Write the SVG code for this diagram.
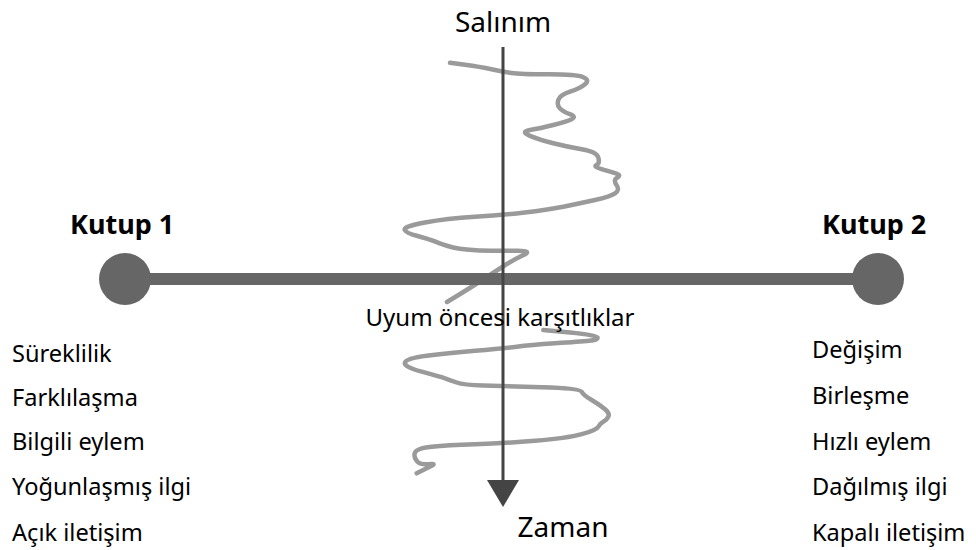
<svg xmlns="http://www.w3.org/2000/svg" width="976" height="550" viewBox="0 0 976 550">
  <style>
    text { font-family: "Noto Sans", "Open Sans", sans-serif; fill: #000; }
    .axis-label { font-size: 28px; text-anchor: middle; }
    .mid-label { font-size: 24px; text-anchor: middle; }
    .pole { font-size: 27px; font-weight: bold; }
    .item { font-size: 23.6px; }
    .wiggle { fill: none; stroke: #9a9a9a; stroke-width: 4.5; stroke-linejoin: round; stroke-linecap: round; }
  </style>
  <rect x="0" y="0" width="976" height="550" fill="#ffffff"/>

  <!-- oscillation trace, above and below the pole axis -->
  <g id="oscillation">
    <path class="wiggle" d="M 450,62.7 L 465,64.7 Q 480,66.7 491.5,69.2 Q 503,71.7 511.5,73 Q 520,74.3 548.3,74.3 Q 576.7,74.3 583.3,77.2 Q 590,80 585,84.2 Q 580,88.3 570,91.7 Q 560,95 558.3,100 Q 556.7,105 559.8,108.3 Q 563,111.7 569.8,114.2 Q 576.7,116.7 571.7,119.2 Q 566.7,121.7 553.3,125 Q 540,128.3 530,130 Q 520,131.7 530,135.8 Q 540,140 553.3,143.3 Q 566.7,146.7 581.7,149.2 Q 596.7,151.7 598.3,157.5 Q 600,163.3 596.5,165 Q 593,166.7 601.5,169.2 Q 610,171.7 615.8,173.3 Q 621.7,175 617.3,177.5 Q 613,180 616.5,185 Q 620,190 615,193.3 Q 610,196.7 595,200 Q 580,203.3 563.3,206.7 Q 546.7,210 524.8,212.5 Q 503,215 474.8,216.7 Q 446.7,218.3 424.8,222.5 Q 403,226.7 404.8,230 Q 406.7,233.3 416.7,235.8 Q 426.7,238.3 439.8,243.3 Q 453,248.3 466.5,249.5 Q 480,250.7 491.5,250.7 Q 503,250.7 518,250.7 Q 533,250.7 523,255.3 Q 513,260 503,266.5 Q 493,273 481.5,280.5 Q 470,288 458.5,295 L 447,302"/>
    <path class="wiggle" d="M 543.3,330 L 570,332.5 Q 596.7,335 597.5,337.5 Q 598.3,340 589.2,340.8 Q 580,341.7 555,343.3 Q 530,345 516.7,346.7 Q 503.3,348.3 475,350.8 Q 446.7,353.3 426.7,355.8 Q 406.7,358.3 405,362.5 Q 403.3,366.7 421.7,371.7 Q 440,376.7 445,378.3 Q 450,380 456.7,382.5 Q 463.3,385 483.3,385.5 Q 503.3,386 541.7,387.2 Q 580,388.3 581.7,391.7 Q 583.3,395 591.7,400 Q 600,405 605,409.2 Q 610,413.3 608.3,416.7 Q 606.7,420 603.3,421.7 Q 600,423.3 598.3,426.7 Q 596.7,430 581.7,434.2 Q 566.7,438.3 535,440.8 Q 503.3,443.3 475,444.2 Q 446.7,445 431.7,446.7 Q 416.7,448.3 415,452.5 Q 413.3,456.7 416.7,460.8 Q 420,465 428.3,464.2 Q 436.7,463.3 431.7,465.8 Q 426.7,468.3 421.7,470.8 L 416.7,473.3"/>
  </g>

  <!-- pole axis with end points -->
  <g id="pole-axis">
    <line x1="125" y1="279" x2="878" y2="279" stroke="#666666" stroke-width="12"/>
  </g>
  <g id="kutup-1">
    <circle cx="125" cy="279" r="26" fill="#666666"/>
    <text class="pole" x="70" y="234">Kutup 1</text>
  </g>
  <g id="kutup-2">
    <circle cx="878" cy="279" r="26" fill="#666666"/>
    <text class="pole" x="822" y="234">Kutup 2</text>
  </g>

  <!-- time axis -->
  <g id="connectors">
    <line x1="503" y1="47" x2="503" y2="482" stroke="#444444" stroke-width="3"/>
    <polygon points="487,480 519,480 503,507" fill="#444444"/>
  </g>

  <g id="salinim">
    <text class="axis-label" x="503" y="32">Salınım</text>
  </g>
  <g id="zaman">
    <text class="axis-label" x="563" y="537">Zaman</text>
  </g>
  <g id="uyum">
    <text class="mid-label" x="500" y="326">Uyum öncesi karşıtlıklar</text>
  </g>

  <g id="left-list">
    <text class="item" x="12" y="362">Süreklilik</text>
    <text class="item" x="12" y="406">Farklılaşma</text>
    <text class="item" x="12" y="450">Bilgili eylem</text>
    <text class="item" x="12" y="495">Yoğunlaşmış ilgi</text>
    <text class="item" x="12" y="541">Açık iletişim</text>
  </g>
  <g id="right-list">
    <text class="item" x="812" y="358">Değişim</text>
    <text class="item" x="812" y="404">Birleşme</text>
    <text class="item" x="812" y="450">Hızlı eylem</text>
    <text class="item" x="812" y="495">Dağılmış ilgi</text>
    <text class="item" x="812" y="541">Kapalı iletişim</text>
  </g>
</svg>
